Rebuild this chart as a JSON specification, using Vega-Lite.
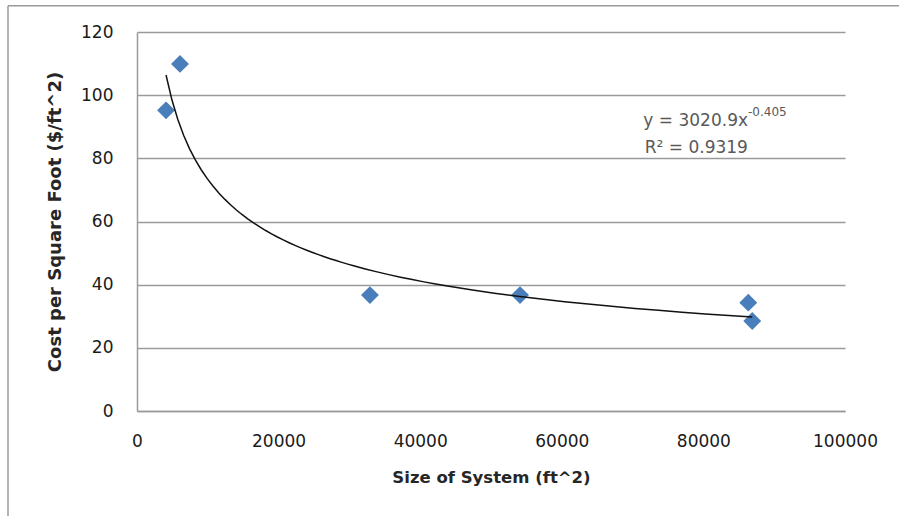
{
  "$schema": "https://vega.github.io/schema/vega-lite/v6.json",
  "width": 708,
  "height": 379,
  "autosize": {"type": "none"},
  "padding": {"left": 137, "top": 32, "right": 54, "bottom": 105},
  "background": "white",
  "config": {
    "view": {"stroke": null},
    "font": "DejaVu Sans"
  },
  "datasets": {
    "points": [
      {"size": 4100, "cost": 95.2},
      {"size": 6070, "cost": 109.9},
      {"size": 32900, "cost": 36.7},
      {"size": 54100, "cost": 36.7},
      {"size": 86340, "cost": 34.3},
      {"size": 86900, "cost": 28.5}
    ],
    "one": [{}]
  },
  "data": {"name": "points"},
  "layer": [
    {
      "data": {"name": "one"},
      "mark": {"type": "rule", "color": "#9a9a9a", "strokeWidth": 1.5, "clip": false},
      "encoding": {
        "x": {"datum": -18220, "type": "quantitative", "scale": {"domain": [0, 100000]}},
        "y": {"datum": 128.3, "type": "quantitative"},
        "y2": {"datum": -40}
      }
    },
    {
      "data": {"name": "one"},
      "mark": {"type": "rule", "color": "#9a9a9a", "strokeWidth": 1.5, "clip": false},
      "encoding": {
        "x": {"datum": -18220, "type": "quantitative"},
        "x2": {"datum": 115000},
        "y": {"datum": 128.3, "type": "quantitative"}
      }
    },
    {
      "mark": {"type": "point", "shape": "diamond", "filled": true, "size": 320, "color": "#4a7ebb", "opacity": 1},
      "encoding": {
        "x": {
          "field": "size",
          "type": "quantitative",
          "scale": {"domain": [0, 100000], "nice": false},
          "axis": {
            "title": "Size of System (ft^2)",
            "values": [0, 20000, 40000, 60000, 80000, 100000],
            "format": "d",
            "grid": false,
            "ticks": false,
            "domain": true,
            "domainColor": "#9a9a9a",
            "domainWidth": 1.5,
            "labelFlush": false,
            "labelFontSize": 17,
            "labelColor": "#1a1a1a",
            "labelPadding": 22,
            "titleFontSize": 16.5,
            "titleFontWeight": "bold",
            "titleColor": "#262626",
            "titlePadding": 20
          }
        },
        "y": {
          "field": "cost",
          "type": "quantitative",
          "scale": {"domain": [0, 120], "nice": false},
          "axis": {
            "title": "Cost per Square Foot ($/ft^2)",
            "values": [0, 20, 40, 60, 80, 100, 120],
            "grid": true,
            "gridColor": "#9a9a9a",
            "gridWidth": 1.5,
            "ticks": false,
            "domain": true,
            "domainColor": "#9a9a9a",
            "domainWidth": 1.5,
            "labelFlush": false,
            "labelFontSize": 17,
            "labelColor": "#1a1a1a",
            "labelPadding": 24,
            "titleFontSize": 18,
            "titleFontWeight": "bold",
            "titleColor": "#262626",
            "titlePadding": 16
          }
        }
      }
    },
    {
      "transform": [
        {"regression": "cost", "on": "size", "method": "pow"}
      ],
      "mark": {"type": "line", "color": "#111111", "strokeWidth": 1.5},
      "encoding": {
        "x": {"field": "size", "type": "quantitative"},
        "y": {"field": "cost", "type": "quantitative"}
      }
    },
    {
      "data": {"name": "one"},
      "mark": {"type": "text", "text": "y = 3020.9x", "align": "right", "baseline": "alphabetic", "fontSize": 17, "fontWeight": "normal", "color": "#595959"},
      "encoding": {
        "x": {"datum": 86300, "type": "quantitative"},
        "y": {"datum": 90.3, "type": "quantitative"}
      }
    },
    {
      "data": {"name": "one"},
      "mark": {"type": "text", "text": "-0.405", "align": "left", "baseline": "alphabetic", "fontSize": 12, "fontWeight": "normal", "color": "#595959"},
      "encoding": {
        "x": {"datum": 86300, "type": "quantitative"},
        "y": {"datum": 93.3, "type": "quantitative"}
      }
    },
    {
      "data": {"name": "one"},
      "mark": {"type": "text", "text": "R² = 0.9319", "align": "center", "baseline": "alphabetic", "fontSize": 17, "fontWeight": "normal", "color": "#595959"},
      "encoding": {
        "x": {"datum": 79000, "type": "quantitative"},
        "y": {"datum": 81.7, "type": "quantitative"}
      }
    }
  ]
}
